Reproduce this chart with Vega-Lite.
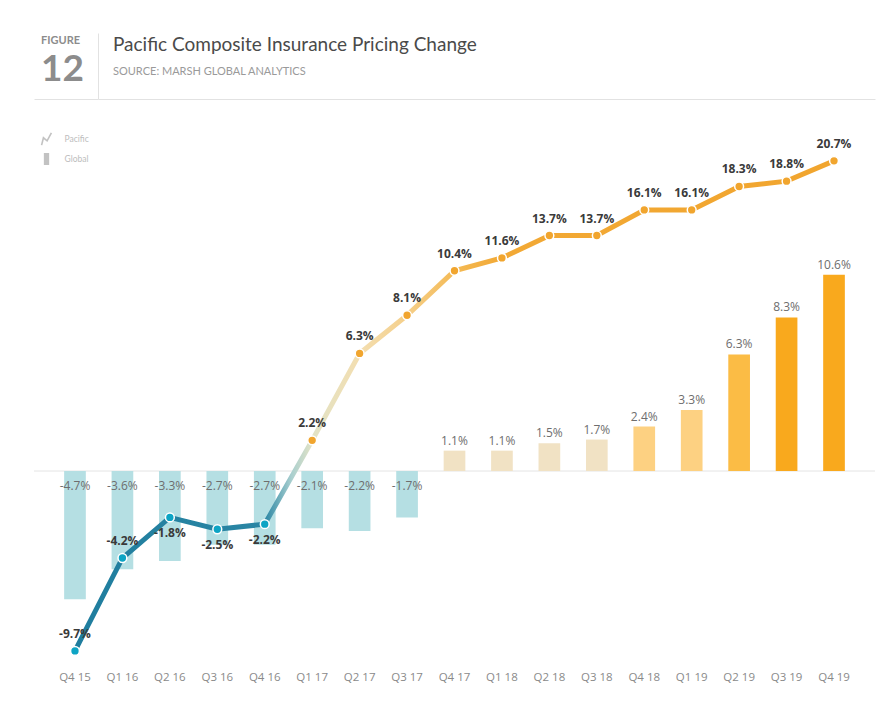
{
  "$schema": "https://vega.github.io/schema/vega-lite/v6.json",
  "padding": {"left": 33, "top": 33, "right": 13, "bottom": 8},
  "spacing": 11,
  "background": "white",
  "config": {
    "view": {"stroke": null},
    "font": "Lato",
    "locale": {"number": {"decimal": ".", "thousands": ",", "grouping": [3], "currency": ["$", ""], "minus": "-"}}
  },
  "datasets": {
    "quarters": [
      {"quarter": "Q4 15", "pacific": -0.097, "global": -0.047},
      {"quarter": "Q1 16", "pacific": -0.042, "global": -0.036},
      {"quarter": "Q2 16", "pacific": -0.018, "global": -0.033},
      {"quarter": "Q3 16", "pacific": -0.025, "global": -0.027},
      {"quarter": "Q4 16", "pacific": -0.022, "global": -0.027},
      {"quarter": "Q1 17", "pacific": 0.022, "global": -0.021},
      {"quarter": "Q2 17", "pacific": 0.063, "global": -0.022},
      {"quarter": "Q3 17", "pacific": 0.081, "global": -0.017},
      {"quarter": "Q4 17", "pacific": 0.104, "global": 0.011},
      {"quarter": "Q1 18", "pacific": 0.116, "global": 0.011},
      {"quarter": "Q2 18", "pacific": 0.137, "global": 0.015},
      {"quarter": "Q3 18", "pacific": 0.137, "global": 0.017},
      {"quarter": "Q4 18", "pacific": 0.161, "global": 0.024},
      {"quarter": "Q1 19", "pacific": 0.161, "global": 0.033},
      {"quarter": "Q2 19", "pacific": 0.183, "global": 0.063},
      {"quarter": "Q3 19", "pacific": 0.188, "global": 0.083},
      {"quarter": "Q4 19", "pacific": 0.207, "global": 0.106}
    ],
    "series": [{"series": "Pacific"}, {"series": "Global"}],
    "baseline": [{"level": 0}]
  },
  "vconcat": [
    {
      "hconcat": [
        {
          "width": 64,
          "height": 66,
          "data": {"values": []},
          "title": {
            "text": "FIGURE",
            "subtitle": "12",
            "anchor": "start",
            "frame": "group",
            "orient": "top",
            "offset": -55,
            "dx": 7,
            "font": "Lato",
            "fontSize": 11,
            "fontWeight": "bold",
            "color": "#8c8c8c",
            "subtitleFont": "Lato",
            "subtitleFontSize": 37,
            "subtitleFontWeight": "bold",
            "subtitleColor": "#8c8c8c",
            "subtitlePadding": 6
          },
          "mark": "point",
          "encoding": {
            "x": {"field": "a", "type": "quantitative", "scale": {"domain": [0, 1]}, "axis": {"labels": false, "ticks": false, "grid": false, "title": null, "domainColor": "#e2e2e2"}},
            "y": {"field": "b", "type": "quantitative", "scale": {"domain": [0, 1]}, "axis": null}
          }
        },
        {
          "width": 777,
          "height": 66,
          "data": {"values": []},
          "title": {
            "text": "Pacific Composite Insurance Pricing Change",
            "subtitle": "SOURCE: MARSH GLOBAL ANALYTICS",
            "anchor": "start",
            "frame": "group",
            "orient": "top",
            "offset": -44,
            "dx": 15,
            "font": "Lato",
            "fontSize": 19,
            "fontWeight": "normal",
            "color": "#4a4a4a",
            "subtitleFont": "Lato",
            "subtitleFontSize": 11,
            "subtitleColor": "#9a9a9a",
            "subtitlePadding": 11
          },
          "mark": "point",
          "encoding": {
            "x": {"field": "a", "type": "quantitative", "scale": {"domain": [0, 1]}, "axis": {"labels": false, "ticks": false, "grid": false, "title": null, "domainColor": "#e2e2e2"}},
            "y": {"field": "b", "type": "quantitative", "scale": {"domain": [0, 1]}, "axis": {"labels": false, "ticks": false, "grid": false, "title": null, "domainColor": "#e2e2e2"}}
          }
        }
      ],
      "spacing": 0,
      "bounds": "flush"
    },
    {
      "width": 841,
      "height": 550,
      "layer": [
        {
          "layer": [
            {
              "data": {"name": "baseline"},
              "mark": {"type": "rule", "color": "#e4e4e4", "strokeWidth": 1},
              "encoding": {
                "y": {"field": "level", "type": "quantitative", "scale": {"type": "linear", "domain": [-0.06923, 0, 0.1951], "range": [550, 361, 0], "nice": false, "zero": false}, "axis": null}
              }
            },
            {
              "data": {"name": "quarters"},
              "mark": {"type": "bar"},
              "encoding": {
                "x": {"field": "quarter", "type": "nominal", "sort": null, "scale": {"paddingInner": 0.543, "paddingOuter": 0.6355}, "axis": {"title": null, "labelAngle": 0, "ticks": false, "domain": false, "labelColor": "#8a8a8a", "labelFontSize": 11.5, "labelPadding": 11, "labelFont": "Open Sans"}},
                "y": {"field": "global", "type": "quantitative", "scale": {"type": "linear", "domain": [-0.06923, 0, 0.1951], "range": [550, 361, 0], "nice": false, "zero": false}, "axis": null},
                "color": {
                  "field": "quarter", "type": "nominal", "sort": null, "legend": null,
                  "scale": {
                    "domain": ["Q4 15", "Q1 16", "Q2 16", "Q3 16", "Q4 16", "Q1 17", "Q2 17", "Q3 17", "Q4 17", "Q1 18", "Q2 18", "Q3 18", "Q4 18", "Q1 19", "Q2 19", "Q3 19", "Q4 19"],
                    "range": ["#b5dfe3", "#b5dfe3", "#b5dfe3", "#b5dfe3", "#b5dfe3", "#b5dfe3", "#b5dfe3", "#b5dfe3", "#f1e2c4", "#f1e2c4", "#f1e2c4", "#f1e2c4", "#fdd182", "#fdd182", "#fbbc45", "#f9a91d", "#f9a91d"]
                  }
                }
              }
            },
            {
              "data": {"name": "quarters"},
              "transform": [{"filter": "datum.global > 0"}],
              "mark": {"type": "text", "baseline": "bottom", "dy": -3, "fontSize": 12, "color": "#6e6e6e", "font": "Open Sans"},
              "encoding": {
                "x": {"field": "quarter", "type": "nominal", "sort": null, "scale": {"paddingInner": 0.543, "paddingOuter": 0.6355}, "axis": {"title": null, "labelAngle": 0, "ticks": false, "domain": false, "labelColor": "#8a8a8a", "labelFontSize": 11.5, "labelPadding": 11, "labelFont": "Open Sans"}},
                "y": {"field": "global", "type": "quantitative", "scale": {"type": "linear", "domain": [-0.06923, 0, 0.1951], "range": [550, 361, 0], "nice": false, "zero": false}, "axis": null},
                "text": {"field": "global", "type": "quantitative", "format": ".1%"}
              }
            },
            {
              "data": {"name": "quarters"},
              "transform": [{"filter": "datum.global < 0"}],
              "mark": {"type": "text", "baseline": "middle", "dy": 15, "fontSize": 12, "color": "#6e6e6e", "font": "Open Sans"},
              "encoding": {
                "x": {"field": "quarter", "type": "nominal", "sort": null, "scale": {"paddingInner": 0.543, "paddingOuter": 0.6355}, "axis": {"title": null, "labelAngle": 0, "ticks": false, "domain": false, "labelColor": "#8a8a8a", "labelFontSize": 11.5, "labelPadding": 11, "labelFont": "Open Sans"}},
                "y": {"datum": 0, "type": "quantitative", "scale": {"type": "linear", "domain": [-0.06923, 0, 0.1951], "range": [550, 361, 0], "nice": false, "zero": false}, "axis": null},
                "text": {"field": "global", "type": "quantitative", "format": ".1%"}
              }
            },
            {
              "data": {"name": "series"},
              "transform": [{"filter": "false"}],
              "mark": {"type": "point", "filled": false, "color": "#a9a9a9", "strokeWidth": 1.6},
              "encoding": {
                "shape": {
                  "field": "series", "type": "nominal",
                  "scale": {"domain": ["Pacific", "Global"], "range": ["M-0.8,1L-0.5,-0.2L0.1,0.3L0.8,-1", "M-0.3,-1V1M-0.1,-1V1M0.1,-1V1M0.3,-1V1"]},
                  "legend": {"orient": "none", "legendX": 5.5, "legendY": 99, "title": null, "labelColor": "#bdbdbd", "labelFontSize": 8.5, "labelFont": "Lato", "symbolSize": 150, "symbolStrokeWidth": 1.6, "symbolStrokeColor": "#a9a9a9", "rowPadding": 0, "labelOffset": 11, "padding": 0}
                }
              }
            }
          ]
        },
        {
          "data": {"name": "quarters"},
          "layer": [
            {
              "mark": {
                "type": "line", "strokeWidth": 5,
                "stroke": {"gradient": "linear", "x1": 0, "y1": 0, "x2": 1, "y2": 0,
                  "stops": [
                    {"offset": 0, "color": "#1f7d9e"},
                    {"offset": 0.25, "color": "#2a86a4"},
                    {"offset": 0.285, "color": "#a9cfcf"},
                    {"offset": 0.3125, "color": "#e2e3c6"},
                    {"offset": 0.375, "color": "#f3deb0"},
                    {"offset": 0.4375, "color": "#f5cf8a"},
                    {"offset": 0.5, "color": "#f4ba55"},
                    {"offset": 0.56, "color": "#f2a935"},
                    {"offset": 1, "color": "#f1a52e"}
                  ]}
              },
              "encoding": {
                "x": {"field": "quarter", "type": "nominal", "sort": null, "scale": {"paddingInner": 0.543, "paddingOuter": 0.6355}, "axis": {"title": null, "labelAngle": 0, "ticks": false, "domain": false, "labelColor": "#8a8a8a", "labelFontSize": 11.5, "labelPadding": 11, "labelFont": "Open Sans"}},
                "y": {"field": "pacific", "type": "quantitative", "scale": {"type": "linear", "domain": [-0.1, 0, 0.1, 0.22], "range": [546, 377, 165, 37], "nice": false, "zero": false}, "axis": null}
              }
            },
            {
              "mark": {"type": "point", "filled": true, "size": 78, "stroke": "white", "strokeWidth": 1.5, "opacity": 1},
              "encoding": {
                "x": {"field": "quarter", "type": "nominal", "sort": null, "scale": {"paddingInner": 0.543, "paddingOuter": 0.6355}, "axis": {"title": null, "labelAngle": 0, "ticks": false, "domain": false, "labelColor": "#8a8a8a", "labelFontSize": 11.5, "labelPadding": 11, "labelFont": "Open Sans"}},
                "y": {"field": "pacific", "type": "quantitative", "scale": {"type": "linear", "domain": [-0.1, 0, 0.1, 0.22], "range": [546, 377, 165, 37], "nice": false, "zero": false}, "axis": null},
                "fill": {
                  "field": "quarter", "type": "nominal", "sort": null, "legend": null,
                  "scale": {
                    "domain": ["Q4 15", "Q1 16", "Q2 16", "Q3 16", "Q4 16", "Q1 17", "Q2 17", "Q3 17", "Q4 17", "Q1 18", "Q2 18", "Q3 18", "Q4 18", "Q1 19", "Q2 19", "Q3 19", "Q4 19"],
                    "range": ["#0da4c4", "#0da4c4", "#0da4c4", "#0da4c4", "#0da4c4", "#f1a52e", "#f1a52e", "#f1a52e", "#f1a52e", "#f1a52e", "#f1a52e", "#f1a52e", "#f1a52e", "#f1a52e", "#f1a52e", "#f1a52e", "#f1a52e"]
                  }
                }
              }
            },
            {
              "transform": [{"filter": "indexof(['Q2 16', 'Q3 16', 'Q4 16'], datum.quarter) < 0"}],
              "mark": {"type": "text", "baseline": "middle", "dy": -17, "fontSize": 12, "fontWeight": "bold", "color": "#3a3a3a", "font": "Open Sans"},
              "encoding": {
                "x": {"field": "quarter", "type": "nominal", "sort": null, "scale": {"paddingInner": 0.543, "paddingOuter": 0.6355}, "axis": {"title": null, "labelAngle": 0, "ticks": false, "domain": false, "labelColor": "#8a8a8a", "labelFontSize": 11.5, "labelPadding": 11, "labelFont": "Open Sans"}},
                "y": {"field": "pacific", "type": "quantitative", "scale": {"type": "linear", "domain": [-0.1, 0, 0.1, 0.22], "range": [546, 377, 165, 37], "nice": false, "zero": false}, "axis": null},
                "text": {"field": "pacific", "type": "quantitative", "format": ".1%"}
              }
            },
            {
              "transform": [{"filter": "indexof(['Q2 16', 'Q3 16', 'Q4 16'], datum.quarter) >= 0"}],
              "mark": {"type": "text", "baseline": "middle", "dy": 16, "fontSize": 12, "fontWeight": "bold", "color": "#3a3a3a", "font": "Open Sans"},
              "encoding": {
                "x": {"field": "quarter", "type": "nominal", "sort": null, "scale": {"paddingInner": 0.543, "paddingOuter": 0.6355}, "axis": {"title": null, "labelAngle": 0, "ticks": false, "domain": false, "labelColor": "#8a8a8a", "labelFontSize": 11.5, "labelPadding": 11, "labelFont": "Open Sans"}},
                "y": {"field": "pacific", "type": "quantitative", "scale": {"type": "linear", "domain": [-0.1, 0, 0.1, 0.22], "range": [546, 377, 165, 37], "nice": false, "zero": false}, "axis": null},
                "text": {"field": "pacific", "type": "quantitative", "format": ".1%"}
              }
            }
          ]
        }
      ],
      "resolve": {"scale": {"y": "independent"}}
    }
  ]
}
